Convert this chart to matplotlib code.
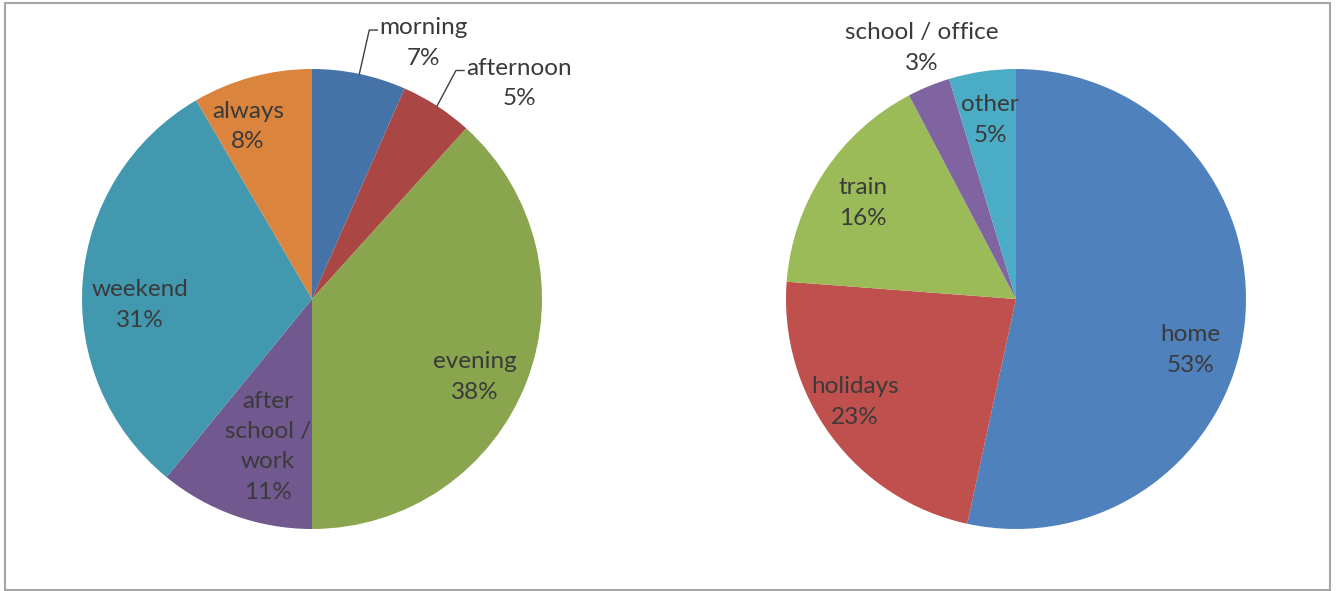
import numpy as np
import matplotlib.pyplot as plt
from matplotlib.patches import Rectangle

plt.rcParams['font.family'] = ['Lato', 'DejaVu Sans']

# left pie: when (percent)
when_labels = ['morning', 'afternoon', 'evening', 'after\nschool /\nwork', 'weekend', 'always']
when_values = [6.6, 5.1, 38.3, 10.9, 30.7, 8.4]
when_colors = ['#4572A7', '#AA4643', '#89A54E', '#71588F', '#4198AF', '#DB843D']

# right pie: where
where_labels = ['home', 'holidays', 'train', 'school / office', 'other']
where_values = [53.4, 22.8, 16.1, 3.0, 4.7]
where_colors = ['#4F81BD', '#C0504D', '#9BBB59', '#8064A2', '#4BACC6']

# label layout: (angle offset from wedge middle in deg, radius, leader line)
when_layout = [(11.7, 1.215, True), (10.9, 1.30, True), (4.5, 0.786, False),
               (-3.0, 0.67, False), (-6.5, 0.748, False), (-5.2, 0.80, False)]
where_layout = [(10.2, 0.79, False), (4.1, 0.83, False), (-1.2, 0.785, False),
                (1.8, 1.165, False), (0.2, 0.787, False)]

txt_color = '#3a3a3a'
fs = 17.5

fig = plt.figure(figsize=(13.36, 5.91), dpi=100)
W, H = 1336, 591


def draw_pie(cx, cy, r, values, labels, colors, layout):
    ax = fig.add_axes([(cx - r) / W, (H - cy - r) / H, 2 * r / W, 2 * r / H])
    wedges, _ = ax.pie(values, colors=colors, startangle=90, counterclock=False,
                       radius=1, wedgeprops=dict(linewidth=0))
    ax.set_xlim(-1, 1)
    ax.set_ylim(-1, 1)
    ax.set_aspect('equal')
    ax.axis('off')
    renderer = fig.canvas.get_renderer()
    for w, lab, v, (off, rad, leader) in zip(wedges, labels, values, layout):
        mid = 0.5 * (w.theta1 + w.theta2)
        a = np.deg2rad(mid - off)
        tx, ty = rad * np.cos(a), rad * np.sin(a)
        t = ax.text(tx, ty, f'{lab}\n{v:.0f}%', ha='center', va='center', fontsize=fs,
                    color=txt_color, linespacing=1.55, clip_on=False)
        if leader:
            bb = t.get_window_extent(renderer).transformed(ax.transData.inverted())
            am = np.deg2rad(mid)
            ex, ey = np.cos(am), np.sin(am)
            hx = bb.x0 - 0.01
            hy = bb.y1 - bb.height * 0.25
            ax.plot([ex, hx - 0.035, hx], [ey, hy, hy], color='#404040', lw=1,
                    clip_on=False)
    return ax


draw_pie(312, 299, 230, when_values, when_labels, when_colors, when_layout)
draw_pie(1016, 299, 230, where_values, where_labels, where_colors, where_layout)

fig.patches.append(Rectangle((5 / W, 1 / H), 1325 / W, 587 / H, transform=fig.transFigure,
                             fill=False, edgecolor='#a6a6a6', linewidth=1.5))

fig.savefig('out.png', dpi=100)
